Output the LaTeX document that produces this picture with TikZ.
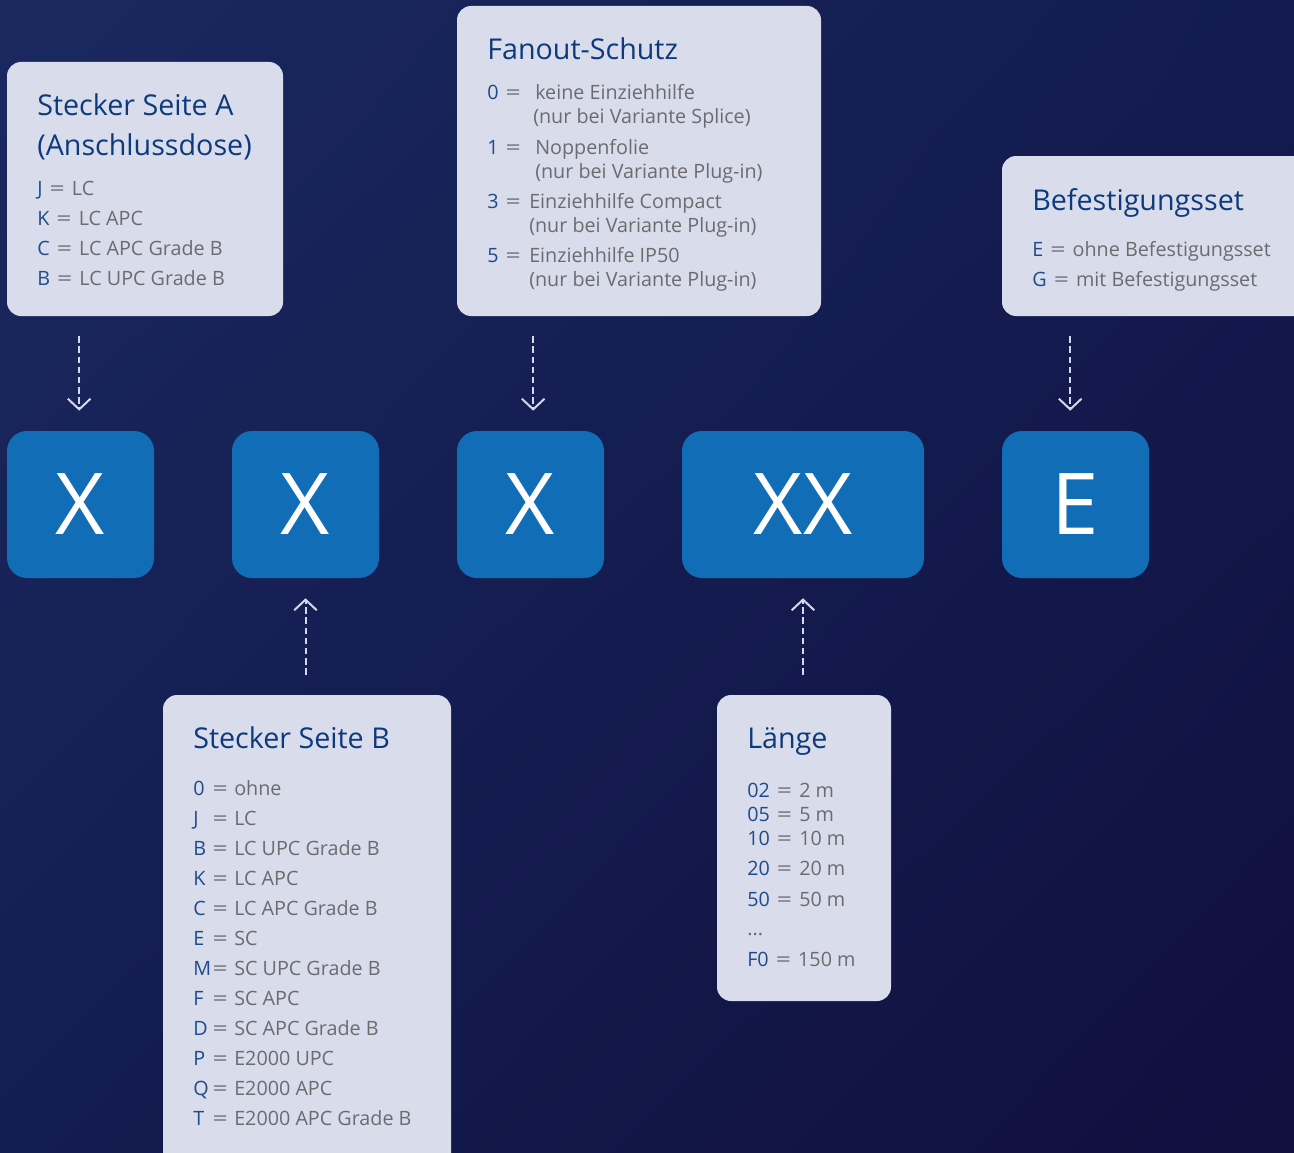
\documentclass[tikz,border=0pt]{standalone}
\usepackage{fontspec}
\usepackage{graphicx}
\setmainfont{Open Sans}
\usetikzlibrary{arrows.meta,fit,shadings}
\definecolor{bgUL}{HTML}{1A2960}
\definecolor{bgUR}{HTML}{131B4F}
\definecolor{bgLL}{HTML}{141D50}
\definecolor{bgLR}{HTML}{100F3E}
\definecolor{boxlight}{HTML}{D9DCEA}
\definecolor{boxblue}{HTML}{116DB6}
\definecolor{titlec}{HTML}{0D3A7D}
\definecolor{keyc}{HTML}{1E4B8C}
\definecolor{valc}{HTML}{6B6B70}
\definecolor{arrowc}{HTML}{D4D8EA}
\newcommand{\eqsp}{\hspace{0.36em}}
\newcommand{\eqsign}{\scalebox{1.35}[1]{=}}
\newcommand{\kv}[2]{{\color{keyc}#1}\eqsp\eqsign\eqsp#2}
\newcommand{\kvw}[3]{\makebox[#1][l]{{\color{keyc}#2}\eqsp\eqsign}#3}
\tikzset{
  lbox/.style={fill=boxlight, draw=none, rounded corners=10.5pt, inner sep=0pt},
  bbox/.style={fill=boxblue, draw=none, rounded corners=15pt, inner sep=0pt,
    minimum height=110.25pt, text=white, font=\fontsize{64}{64}\selectfont},
  ttl/.style={anchor=base west, inner sep=0pt, text=titlec, font=\fontsize{21.5}{26}\selectfont},
  itm/.style={anchor=base west, inner sep=0pt, text=valc, font=\fontsize{14.8}{18}\selectfont},
  conn/.style={draw=arrowc, line width=1.5pt, dash pattern=on 5pt off 2.6pt,
    -{Straight Barb[length=8pt,width=17pt,line width=1.5pt]}}
}
\begin{document}
\begin{tikzpicture}[x=0.75pt,y=-0.75pt]
\useasboundingbox (0,0) rectangle (1294,1152);
\clip (0,0) rectangle (1294,1152);
\shade[upper left=bgUL, upper right=bgUR, lower left=bgLL, lower right=bgLR] (0,0) rectangle (1294,1152);

% light boxes
\node[lbox, fit={(7,62)(283,316)}] (sA) {};
\node[lbox, fit={(457,6)(821,316)}] (fs) {};
\node[lbox, fit={(1002,156)(1320,316)}] (bf) {};
\node[lbox, fit={(163,695)(451,1180)}] (sB) {};
\node[lbox, fit={(717,695)(891,1001)}] (lg) {};

% blue boxes
\node[bbox, minimum width=110.25pt] (b1) at (80.5,504.5) {X};
\node[bbox, minimum width=110.25pt] (b2) at (305.5,504.5) {X};
\node[bbox, minimum width=110.25pt] (b3) at (530.5,504.5) {X};
\node[bbox, minimum width=181.5pt] (b4) at (803,504.5) {XX};
\node[bbox, minimum width=110.25pt] (b5) at (1075.5,504.5) {E};

% connectors
\draw[conn, shorten <=15pt, shorten >=15pt] ([xshift=-1pt]b1.north |- sA.south) -- ([xshift=-1pt]b1.north);
\draw[conn, shorten <=15pt, shorten >=15pt] ([xshift=2pt]b3.north |- fs.south) -- ([xshift=2pt]b3.north);
\draw[conn, shorten <=15pt, shorten >=15pt] ([xshift=-4pt]b5.north |- bf.south) -- ([xshift=-4pt]b5.north);
\draw[conn, shorten <=15pt, shorten >=15pt] (b2.south |- sB.north) -- (b2.south);
\draw[conn, shorten <=15pt, shorten >=15pt] (b4.south |- lg.north) -- (b4.south);

% Stecker Seite A
\node[ttl] (sAt1) at (37,116) {Stecker Seite A};
\node[ttl] (sAt2) at (37,156) {(Anschlussdose)};
\node[itm] (sAi1) at (37,195) {\kv{J}{LC}};
\node[itm] (sAi2) at (37,225) {\kv{K}{LC APC}};
\node[itm] (sAi3) at (37,255) {\kv{C}{LC APC Grade B}};
\node[itm] (sAi4) at (37,285) {\kv{B}{LC UPC Grade B}};

% Fanout-Schutz
\node[ttl] (fst) at (487,60) {Fanout-Schutz};
\node[itm] (fs1) at (487,100) {\kvw{36pt}{0}{keine Einziehhilfe}};
\node[itm] (fs1b) at (533,124) {(nur bei Variante Splice)};
\node[itm] (fs2) at (487,154) {\kvw{36pt}{1}{Noppenfolie}};
\node[itm] (fs2b) at (535,178) {(nur bei Variante Plug-in)};
\node[itm] (fs3) at (487,208) {\kvw{31.5pt}{3}{Einziehhilfe Compact}};
\node[itm] (fs3b) at (529,232) {(nur bei Variante Plug-in)};
\node[itm] (fs4) at (487,262) {\kvw{31.5pt}{5}{Einziehhilfe IP50}};
\node[itm] (fs4b) at (529,286) {(nur bei Variante Plug-in)};

% Befestigungsset
\node[ttl] (bft) at (1032,210) {Befestigungsset};
\node[itm] (bf1) at (1032,256) {\kv{E}{ohne Befestigungsset}};
\node[itm] (bf2) at (1032,286) {\kv{G}{mit Befestigungsset}};

% Stecker Seite B
\node[ttl] (sBt) at (193,748) {Stecker Seite B};
\foreach \k/\v [count=\i from 0] in {0/ohne, J/LC, B/LC UPC Grade B, K/LC APC, C/LC APC Grade B, E/SC, M/SC UPC Grade B, F/SC APC, D/SC APC Grade B, P/E2000 UPC, Q/E2000 APC, T/E2000 APC Grade B}{
  \node[itm] (sBi\i) at (193,795+30*\i) {\makebox[30.75pt][l]{\makebox[14.5pt][l]{\color{keyc}\k}\eqsign}\v};
}

% Laenge
\node[ttl] (lgt) at (747,748) {Länge};
\node[itm] (lg1) at (747,797) {\kv{02}{2 m}};
\node[itm] (lg2) at (747,821) {\kv{05}{5 m}};
\node[itm] (lg3) at (747,845) {\kv{10}{10 m}};
\node[itm] (lg4) at (747,875) {\kv{20}{20 m}};
\node[itm] (lg5) at (747,906) {\kv{50}{50 m}};
\node[itm] (lg6) at (747,935) {...};
\node[itm] (lg7) at (747,966) {\kv{F0}{150 m}};
\end{tikzpicture}
\end{document}
